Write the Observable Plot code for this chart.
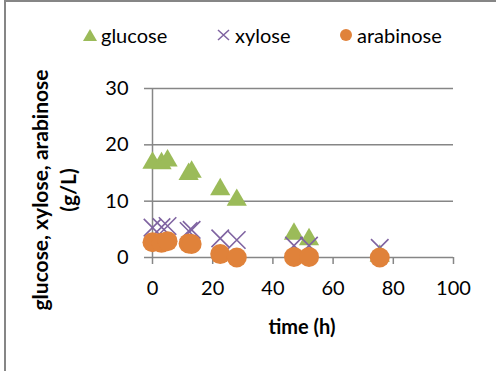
<!DOCTYPE html>
<html>
<head>
<meta charset="utf-8">
<script src="https://cdn.jsdelivr.net/npm/d3@7"></script>
<script src="https://cdn.jsdelivr.net/npm/@observablehq/plot@0.6"></script>
<style>
  body { margin: 0; background: #fff; }
  #wrap { position: relative; width: 496px; height: 371px; overflow: hidden; background: #fff; font-family: Lato, sans-serif; }
  #frame { position: absolute; left: 4px; top: 0; width: 600px; height: 600px; border-left: 2px solid #868686; border-top: 2px solid #868686; box-sizing: border-box; }
  #chart { position: absolute; left: 0; top: 0; }
  .leg { position: absolute; top: 23px; font-size: 20px; line-height: 24px; color: #000; display: flex; align-items: center; }
  .ylab { position: absolute; left: 54px; top: 190px; width: 340px; transform: translate(-50%, -50%) rotate(-90deg); text-align: center; font-weight: bold; font-size: 21px; line-height: 28px; }
  .xlab { position: absolute; left: 302px; top: 326px; transform: translate(-50%, -50%); font-weight: bold; font-size: 20px; white-space: nowrap; }
</style>
</head>
<body>
<div id="wrap">
  <div id="frame"></div>
  <div id="chart"></div>
  <div class="leg" style="left:82px"><svg width="16" height="14"><path d="M8,1 L15,13 L1,13 Z" fill="#9bbb59"/></svg><span style="margin-left:3px">glucose</span></div>
  <div class="leg" style="left:216px"><svg width="16" height="14"><path d="M2,2 L13,12 M13,2 L2,12" stroke="#7f63a1" stroke-width="1.5"/></svg><span style="margin-left:3px">xylose</span></div>
  <div class="leg" style="left:339px"><svg width="15" height="14"><circle cx="7" cy="7" r="6" fill="#e0823a"/></svg><span style="margin-left:3px">arabinose</span></div>
  <div class="ylab">glucose, xylose, arabinose<br>(g/L)</div>
  <div class="xlab">time (h)</div>
</div>
<script>
const time      = [0, 3, 5, 12, 13, 22.5, 28, 47, 52, 75.5];
const glucose   = [16.8, 16.7, 17.2, 14.8, 15.2, 12.1, 10.2, 4.2, 3.2, 0.3];
const xylose    = [5.3, 5.4, 5.6, 4.7, 4.9, 3.4, 3.1, 2.1, 2.1, 1.7];
const arabinose = [2.7, 2.6, 2.9, 2.5, 2.4, 0.6, 0.0, 0.1, 0.1, 0.0];
const xTicks = [0, 20, 40, 60, 80, 100];
const yTicks = [0, 10, 20, 30];

const rows = time.map((t, i) => ({t, glucose: glucose[i], xylose: xylose[i], arabinose: arabinose[i]}));
const gray = "#868686";

const chart = Plot.plot({
  width: 496,
  height: 371,
  marginLeft: 152,
  marginRight: 43,
  marginTop: 88,
  marginBottom: 114,
  style: {fontFamily: "Lato, sans-serif", fontSize: "20px", color: "#000", background: "transparent"},
  x: {domain: [0, 100]},
  y: {domain: [0, 30]},
  marks: [
    Plot.gridY(yTicks.filter(d => d > 0), {stroke: gray, strokeOpacity: 1, strokeWidth: 1.5}),
    Plot.ruleY([0], {stroke: gray, strokeWidth: 1.5}),
    Plot.ruleX([0], {stroke: gray, strokeWidth: 1.5}),
    Plot.axisY({ticks: yTicks, tickSize: 8, tickPadding: 16, stroke: gray, strokeWidth: 1.5, fill: "#000", label: null, tickFormat: d => d}),
    Plot.axisX({ticks: xTicks, tickSize: 7, tickPadding: 16, stroke: gray, strokeWidth: 1.5, fill: "#000", label: null, tickFormat: d => d}),
    Plot.dot(rows, {x: "t", y: "glucose", symbol: "triangle", r: 7.5, fill: "#9bbb59", stroke: "none"}),
    Plot.dot(rows, {x: "t", y: "xylose", symbol: "times", r: 8, stroke: "#7f63a1", strokeWidth: 1.6, fill: "none"}),
    Plot.dot(rows, {x: "t", y: "arabinose", symbol: "circle", r: 10, fill: "#e0823a", stroke: "none"})
  ]
});
document.getElementById("chart").appendChild(chart);
</script>
</body>
</html>
